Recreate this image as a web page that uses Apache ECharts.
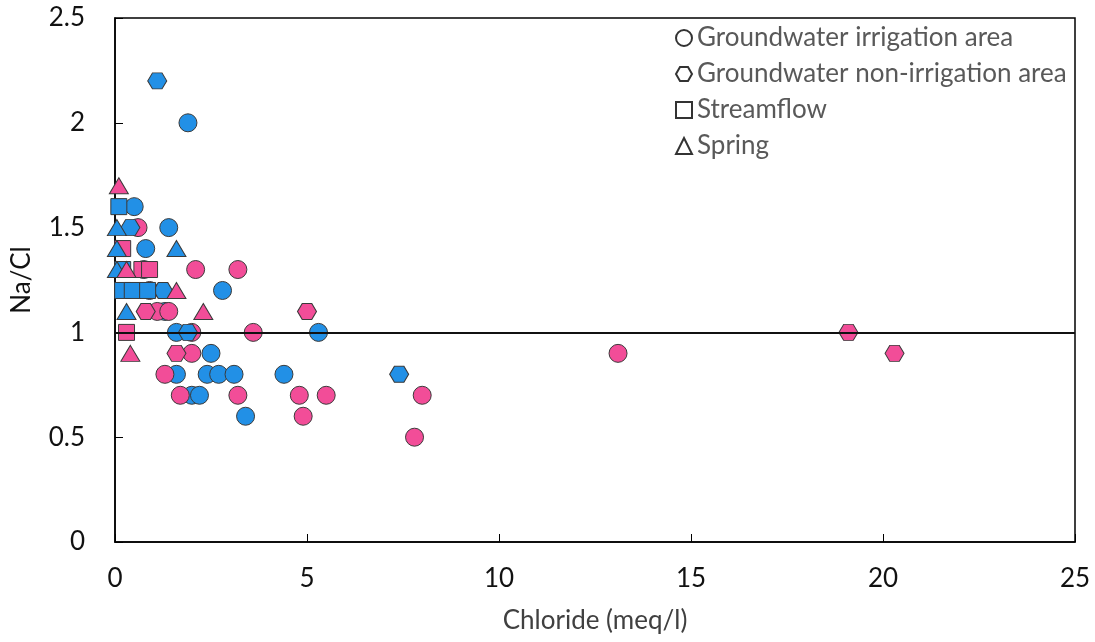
<!DOCTYPE html>
<html>
<head>
<meta charset="utf-8">
<script src="https://cdn.jsdelivr.net/npm/echarts@6/dist/echarts.min.js"></script>
<style>html,body{margin:0;padding:0;background:#fff;}#c{width:1095px;height:642px;}</style>
</head>
<body>
<div id="c"></div>
<script>
// Data: [chloride (meq/l), Na/Cl]
const irrigationBlue = [[0.5,1.6],[1.4,1.5],[0.8,1.4],[0.75,1.3],[2.8,1.2],[1.3,1.1],[1.6,1.0],[5.3,1.0],[2.5,0.9],[1.6,0.8],[2.4,0.8],[2.7,0.8],[3.1,0.8],[4.4,0.8],[2.0,0.7],[2.2,0.7],[3.4,0.6],[1.9,2.0]];
const irrigationPink = [[0.6,1.5],[2.1,1.3],[3.2,1.3],[0.9,1.2],[1.1,1.1],[1.4,1.1],[2.0,1.0],[3.6,1.0],[2.0,0.9],[1.3,0.8],[1.7,0.7],[3.2,0.7],[4.8,0.7],[5.5,0.7],[4.9,0.6],[8.0,0.7],[7.8,0.5],[13.1,0.9]];
const nonIrrigationBlue = [[1.1,2.2],[0.4,1.5],[1.25,1.2],[1.9,1.0],[7.4,0.8]];
const nonIrrigationPink = [[0.8,1.1],[5.0,1.1],[1.6,0.9],[19.1,1.0],[20.3,0.9]];
const streamBlue = [[0.1,1.6],[0.2,1.3],[0.2,1.2],[0.45,1.2],[0.85,1.2]];
const streamPink = [[0.2,1.4],[0.7,1.3],[0.9,1.3],[0.3,1.0]];
const springBlue = [[0.05,1.5],[0.05,1.4],[1.6,1.4],[0.05,1.3],[0.3,1.1]];
const springPink = [[0.1,1.7],[0.3,1.3],[1.6,1.2],[2.3,1.1],[0.4,0.9]];
const legendNames = ['Groundwater irrigation area','Groundwater non-irrigation area','Streamflow','Spring'];
const refLine = 1;

const BLUE = '#2290E6', PINK = '#F24D98';
const HEX = 'path://M0,5L2.887,0L8.66,0L11.547,5L8.66,10L2.887,10Z';
const FONT = 'Lato';

function sc(name, data, symbol, size, color){
  return {type:'scatter', name:name, data:data, symbol:symbol, symbolSize:size,
    itemStyle:{color:color, borderColor:'#3a3a3a', borderWidth:1, opacity:1}, z:3};
}
function legendSeries(name, symbol){
  return {type:'scatter', name:name, data:[], symbol:symbol,
    itemStyle:{color:'#fff', borderColor:'#000', borderWidth:2}};
}

const series = [
  sc('gwiB', irrigationBlue, 'circle', 18, BLUE),
  sc('gwiP', irrigationPink, 'circle', 18, PINK),
  sc('gwnB', nonIrrigationBlue, HEX, [19,16], BLUE),
  sc('gwnP', nonIrrigationPink, HEX, [19,16], PINK),
  sc('sfP', streamPink, 'rect', 16, PINK),
  sc('sfB', streamBlue, 'rect', 16, BLUE),
  sc('spB', springBlue, 'triangle', [19,16], BLUE),
  sc('spP', springPink, 'triangle', [19,16], PINK),
  legendSeries(legendNames[0], 'circle'),
  legendSeries(legendNames[1], HEX),
  legendSeries(legendNames[2], 'rect'),
  legendSeries(legendNames[3], 'triangle')
];
series[0].markLine = {silent:true, symbol:'none', z:10, label:{show:false},
  lineStyle:{color:'#111', width:2, type:'solid'}, data:[{yAxis:refLine}]};

const chart = echarts.init(document.getElementById('c'));
chart.setOption({
  animation:false,
  textStyle:{fontFamily:FONT},
  grid:{left:115, right:20, top:18, bottom:100, show:true, borderColor:'#000', borderWidth:1.5},
  legend:{data:legendNames, orient:'vertical', left:670, top:20, itemGap:10, itemWidth:16, itemHeight:16,
    textStyle:{fontFamily:FONT, fontSize:26, color:'#595959'}},
  xAxis:{type:'value', min:0, max:25, interval:5, name:'Chloride (meq/l)', nameLocation:'middle', nameGap:66,
    nameTextStyle:{fontFamily:FONT, fontSize:26, color:'#404040'},
    axisLine:{lineStyle:{color:'#000', width:1.5}}, axisTick:{inside:true, length:8, lineStyle:{color:'#000'}},
    axisLabel:{fontFamily:FONT, fontSize:26, color:'#111', margin:24}, splitLine:{show:false}},
  yAxis:{type:'value', min:0, max:2.5, interval:0.5, name:'Na/Cl', nameLocation:'middle', nameGap:80, nameRotate:90,
    nameTextStyle:{fontFamily:FONT, fontSize:26, color:'#111'},
    axisLine:{show:true, lineStyle:{color:'#000', width:1.5}}, axisTick:{show:true, inside:true, length:8, lineStyle:{color:'#000'}},
    axisLabel:{fontFamily:FONT, fontSize:26, color:'#111', margin:30}, splitLine:{show:false}},
  series:series
});
</script>
</body>
</html>
